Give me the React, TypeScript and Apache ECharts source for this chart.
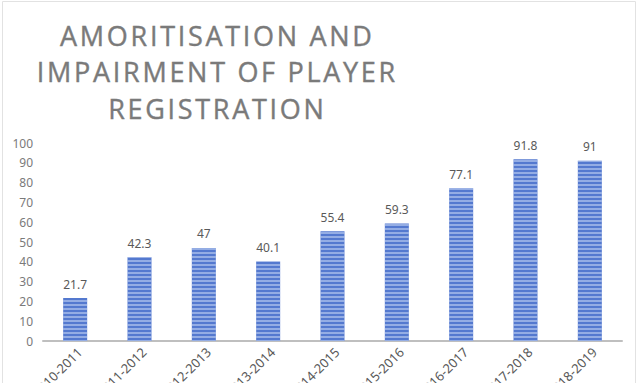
import React, { useEffect, useRef } from "react";
import * as echarts from "echarts";

const categories = [
  "2010-2011",
  "2011-2012",
  "2012-2013",
  "2013-2014",
  "2014-2015",
  "2015-2016",
  "2016-2017",
  "2017-2018",
  "2018-2019",
];
const values = [21.7, 42.3, 47, 40.1, 55.4, 59.3, 77.1, 91.8, 91];
const titleLines = ["AMORITISATION AND", "IMPAIRMENT OF PLAYER", "REGISTRATION"];

const spaced = (s: string) => s.split("").join("\u200A");

export default function App() {
  const ref = useRef<HTMLDivElement>(null);
  useEffect(() => {
    if (!ref.current) return;
    const chart = echarts.init(ref.current, undefined, { renderer: "svg" });
    chart.setOption({
      animation: false,
      backgroundColor: "#ffffff",
      textStyle: { fontFamily: "'Noto Sans', sans-serif" },
      graphic: [
        {
          type: "rect",
          shape: { x: 2.5, y: 1.5, width: 633, height: 400 },
          style: { fill: "none", stroke: "#e2e2e2", lineWidth: 1 },
          silent: true,
        },
        ...titleLines.map((t, i) => ({
          type: "text",
          x: 216,
          y: 35 + i * 36.5,
          style: {
            text: spaced(t),
            fill: "#7a7a7a",
            font: "27px 'Open Sans', sans-serif",
            textAlign: "center",
            textVerticalAlign: "middle",
            stroke: "#7a7a7a",
            lineWidth: 0.4,
          },
        })),
      ],
      grid: {
        left: 43,
        right: 18,
        top: 143,
        bottom: 42,
        containLabel: false,
        outerBoundsMode: "none",
      },
      xAxis: {
        type: "category",
        data: categories,
        axisLine: { lineStyle: { color: "#bfbfbf", width: 2 } },
        axisTick: { show: false },
        axisLabel: {
          rotate: 45,
          color: "#595959",
          fontSize: 13,
          margin: 4,
          verticalAlign: "top",
          interval: 0,
        },
      },
      yAxis: {
        type: "value",
        min: 0,
        max: 100,
        interval: 10,
        axisLine: { show: false },
        axisTick: { show: false },
        splitLine: { show: false },
        axisLabel: { color: "#7a7a7a", fontSize: 12, margin: 10 },
      },
      series: [
        {
          type: "bar",
          data: values,
          barWidth: 24,
          itemStyle: {
            color: "#5479cf",
            decal: {
              symbol: "rect",
              symbolSize: 1,
              dashArrayX: [1, 0],
              dashArrayY: [2, 2],
              rotation: 0,
              color: "rgba(200,215,245,0.55)",
            },
          },
          label: {
            show: true,
            position: "top",
            distance: 8,
            color: "#595959",
            fontSize: 12,
          },
        },
      ],
    });
    return () => chart.dispose();
  }, []);
  return <div ref={ref} style={{ width: 640, height: 383, position: "absolute", left: 0, top: 0 }} />;
}
